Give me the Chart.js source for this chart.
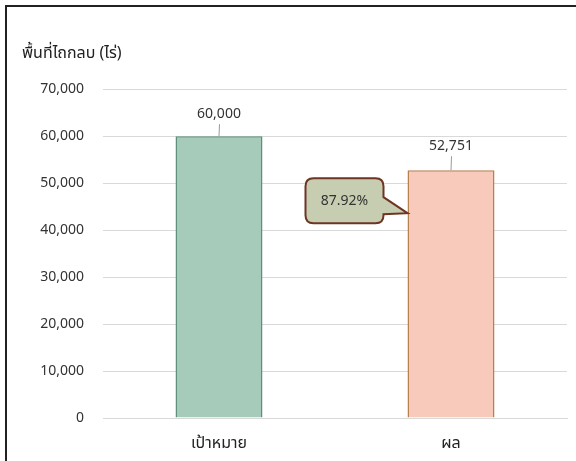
<!DOCTYPE html>
<html>
<head>
<meta charset="utf-8">
<script src="https://cdn.jsdelivr.net/npm/chart.js@4.4.0/dist/chart.umd.min.js"></script>
<style>
  body { margin: 0; background: #fff; }
  #wrap { position: relative; width: 576px; height: 461px; overflow: hidden; }
  #frame { position: absolute; left: 5px; top: 5px; width: 580px; height: 480px; border: 2px solid #222; pointer-events: none; }
</style>
</head>
<body>
<div id="wrap">
  <canvas id="chart" width="576" height="461"></canvas>
  <div id="frame"></div>
</div>
<script>
const categories = ['เป้าหมาย', 'ผล'];
const values = [60000, 52751];
const barFill = ['#a6cbbb', '#f8cabb'];
const barBorder = ['#5c907b', '#b8804e'];
const yMax = 70000;
const yStep = 10000;

const fontFamily = "'Noto Sans', 'Noto Sans Thai', Tahoma, sans-serif";

// value labels above bars with a short leader line
const valueLabels = {
  id: 'valueLabels',
  afterDatasetsDraw(chart) {
    const ctx = chart.ctx;
    const meta = chart.getDatasetMeta(0);
    ctx.save();
    ctx.font = '14px ' + fontFamily;
    ctx.fillStyle = '#333';
    ctx.textAlign = 'center';
    ctx.textBaseline = 'middle';
    meta.data.forEach((bar, i) => {
      const lineLen = i === 0 ? 12 : 14;
      ctx.strokeStyle = '#999';
      ctx.lineWidth = 1;
      ctx.beginPath();
      ctx.moveTo(bar.x, bar.y);
      ctx.lineTo(bar.x + 0.5, bar.y - lineLen);
      ctx.stroke();
      ctx.fillText(values[i].toLocaleString('en-US'), bar.x, bar.y - lineLen - 10);
    });
    ctx.restore();
  }
};

// callout showing result as percent of target
const callout = {
  id: 'callout',
  afterDatasetsDraw(chart) {
    const ctx = chart.ctx;
    const bar = chart.getDatasetMeta(0).data[1];
    const tipX = bar.x - bar.width / 2;
    const tipY = chart.scales.y.getPixelForValue(43600);
    const right = tipX - 24, left = right - 78;
    const top = tipY - 35, bottom = top + 45, r = 8;
    const pct = (values[1] / values[0] * 100).toFixed(2) + '%';
    ctx.save();
    ctx.beginPath();
    ctx.moveTo(left + r, top);
    ctx.lineTo(right - r, top);
    ctx.quadraticCurveTo(right, top, right, top + r);
    ctx.lineTo(right, top + 19);
    ctx.lineTo(tipX, tipY);
    ctx.lineTo(right, top + 36);
    ctx.lineTo(right, bottom - r);
    ctx.quadraticCurveTo(right, bottom, right - r, bottom);
    ctx.lineTo(left + r, bottom);
    ctx.quadraticCurveTo(left, bottom, left, bottom - r);
    ctx.lineTo(left, top + r);
    ctx.quadraticCurveTo(left, top, left + r, top);
    ctx.closePath();
    ctx.fillStyle = '#c6cdb1';
    ctx.fill();
    ctx.strokeStyle = '#6d3522';
    ctx.lineWidth = 2;
    ctx.stroke();
    ctx.font = '14px ' + fontFamily;
    ctx.fillStyle = '#333';
    ctx.textAlign = 'center';
    ctx.textBaseline = 'middle';
    ctx.fillText(pct, (left + right) / 2, (top + bottom) / 2);
    ctx.restore();
  }
};

new Chart(document.getElementById('chart').getContext('2d'), {
  type: 'bar',
  data: {
    labels: categories,
    datasets: [{
      data: values,
      backgroundColor: barFill,
      borderColor: barBorder,
      borderWidth: 1.5,
      categoryPercentage: 1,
      barPercentage: 0.375
    }]
  },
  plugins: [valueLabels, callout],
  options: {
    responsive: false,
    animation: false,
    devicePixelRatio: 1,
    layout: { padding: { left: 22, right: 9, top: 44, bottom: 0 } },
    plugins: {
      legend: { display: false },
      tooltip: { enabled: false },
      title: {
        display: true,
        text: 'พื้นที่ไถกลบ (ไร่)',
        align: 'start',
        color: '#222',
        font: { family: fontFamily, size: 16, weight: 'normal' },
        padding: { top: 0, bottom: 26 }
      }
    },
    scales: {
      x: {
        afterFit(scale) { scale.height = 43; },
        grid: { display: false },
        border: { color: '#d9d9d9', width: 1 },
        ticks: { color: '#222', font: { family: fontFamily, size: 16 }, padding: 8 }
      },
      y: {
        min: 0,
        max: yMax,
        afterFit(scale) { scale.width = 81; },
        grid: { color: '#d9d9d9', drawTicks: false },
        border: { display: false },
        ticks: {
          stepSize: yStep,
          color: '#333',
          padding: 19,
          font: { family: fontFamily, size: 14 },
          callback: v => v.toLocaleString('en-US')
        }
      }
    }
  }
});
</script>
</body>
</html>
